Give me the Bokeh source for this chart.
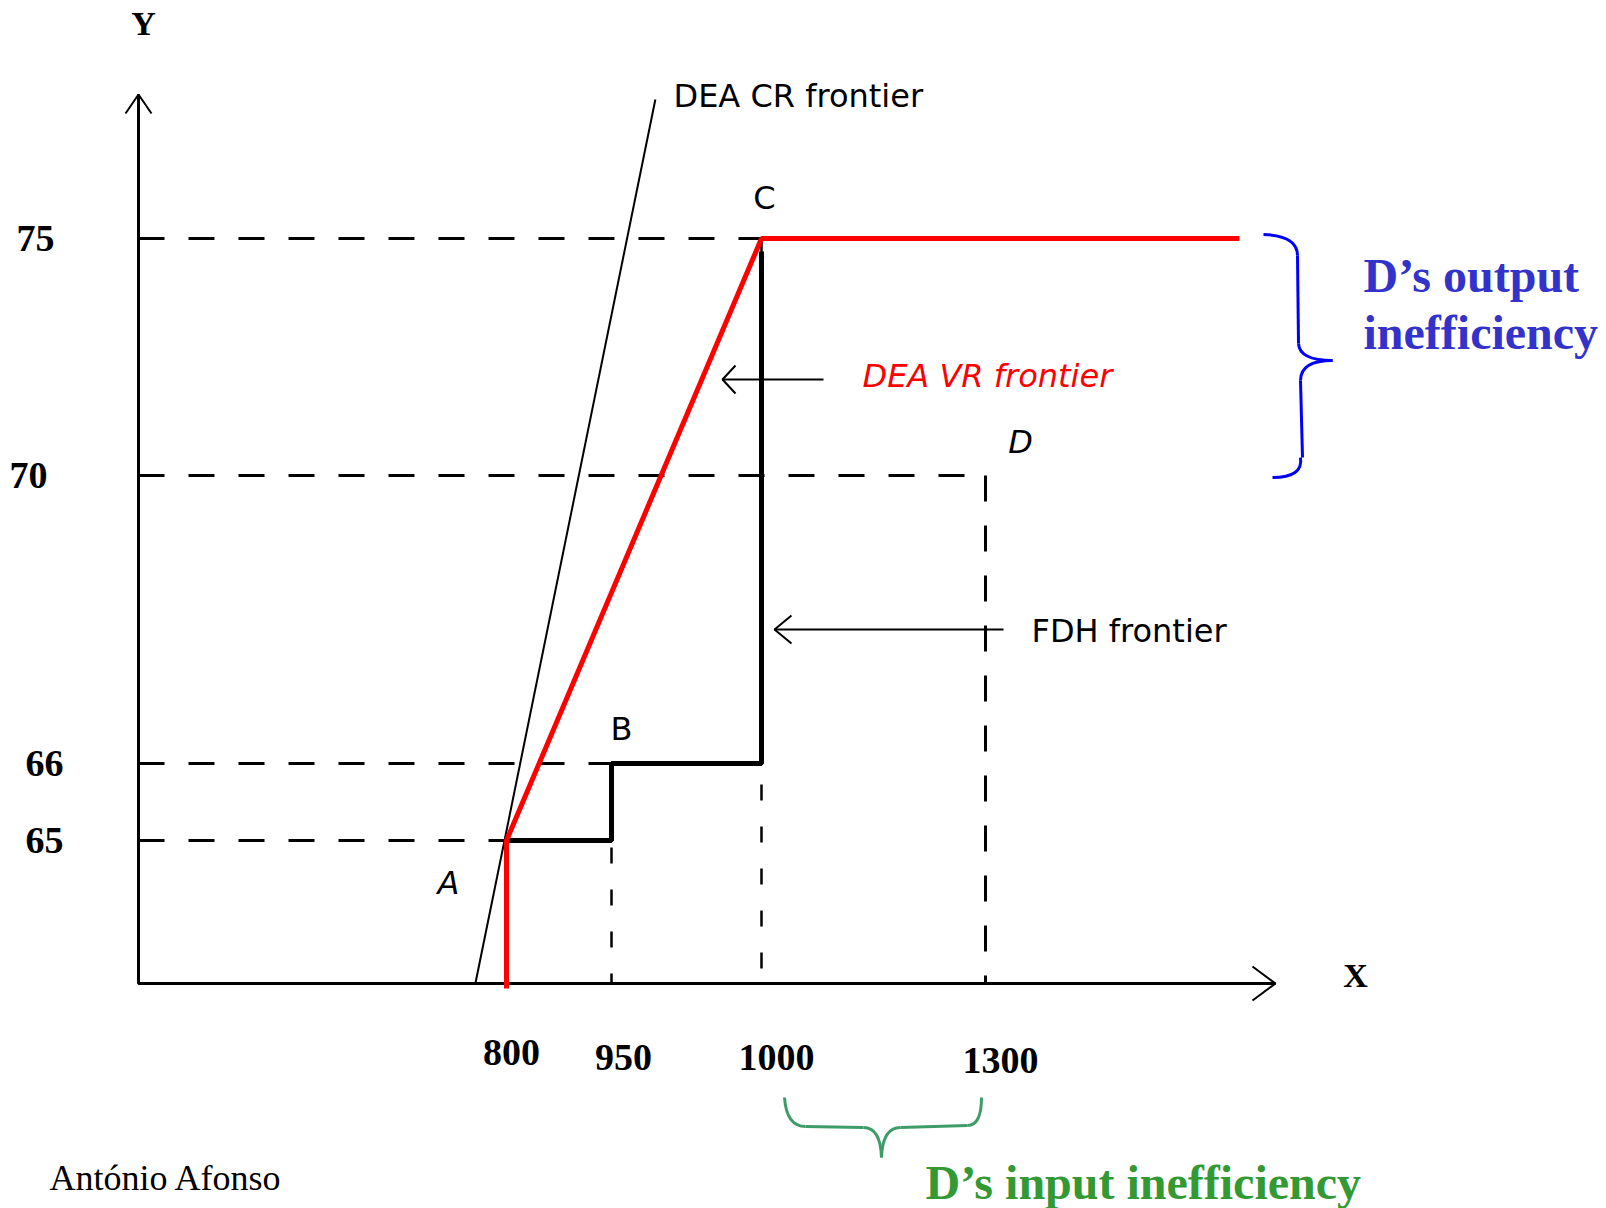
import numpy as np
from bokeh.plotting import figure
from bokeh.models import Range1d
from bokeh.core.properties import value
from bokeh.embed import file_html
from bokeh.resources import INLINE

# ---------------- data ----------------
X_TICKS = [800, 950, 1000, 1300]
Y_TICKS = [65, 66, 70, 75]
X_TICK_LABELS = ["800", "950", "1000", "1300"]
Y_TICK_LABELS = ["65", "66", "70", "75"]
POINT_NAMES = ["A", "B", "C", "D"]
POINT_X = [800, 950, 1000, 1300]
POINT_Y = [65, 66, 75, 70]
FDH_X = [800, 950, 950, 1000, 1000]
FDH_Y = [65, 65, 66, 66, 75]
VRS_X = [800, 1000]
VRS_Y = [65, 75]

# ------------- schematic layout (non-proportional diagram scale) -------------
X_ANCHOR = [506, 611, 761, 985]
Y_ANCHOR = [840, 763, 475, 238]
ORIGIN_X, ORIGIN_Y = 138, 983
Y_AXIS_TOP, X_AXIS_END = 94, 1275
FRONTIER_END = 1239
CR_SLOPE = 0.2036  # dx per dy (px)
CR_TOP = 99


def sx(v):
    return np.interp(v, X_TICKS, X_ANCHOR)


def sy(v):
    return np.interp(v, Y_TICKS, Y_ANCHOR)


W, H = 1606, 1208
p = figure(width=W, height=H, output_backend="svg", toolbar_location=None,
           x_range=Range1d(0, W), y_range=Range1d(H, 0),
           x_axis_type=None, y_axis_type=None, min_border=0)
p.outline_line_color = None
p.background_fill_color = "white"
p.border_fill_color = "white"

PX = sx(POINT_X)
PY = sy(POINT_Y)

# dashed guide lines
for i, name in enumerate(POINT_NAMES):
    p.line([ORIGIN_X, PX[i]], [PY[i], PY[i]], line_color="black", line_width=3,
           line_dash="26 24")
    if name in ("B", "C"):
        p.line([PX[i], PX[i]], [PY[i], ORIGIN_Y], line_color="black", line_width=2.5,
               line_dash="16 26")
    elif name == "D":
        p.line([PX[i], PX[i]], [PY[i], ORIGIN_Y], line_color="black", line_width=3,
               line_dash="26 24")

# DEA CR frontier (thin straight line through A)
ax, ay = PX[0] - 2, PY[0]
p.line([ax - CR_SLOPE * (ORIGIN_Y - ay), ax + CR_SLOPE * (ay - CR_TOP)],
       [ORIGIN_Y, CR_TOP], line_color="black", line_width=2)

# axes
p.line([ORIGIN_X, ORIGIN_X, X_AXIS_END], [Y_AXIS_TOP, ORIGIN_Y, ORIGIN_Y],
       line_color="black", line_width=3)
p.multi_line([[ORIGIN_X - 13, ORIGIN_X, ORIGIN_X + 13],
              [X_AXIS_END - 23, X_AXIS_END, X_AXIS_END - 23]],
             [[Y_AXIS_TOP + 19, Y_AXIS_TOP, Y_AXIS_TOP + 19],
              [ORIGIN_Y - 17, ORIGIN_Y, ORIGIN_Y + 17]],
             line_color="black", line_width=2)

# FDH frontier (the vertical rise stops just short of C, as drawn)
fx = sx(FDH_X)
fy = sy(FDH_Y)
fy[-1] = fy[-1] + 13
p.line(fx, fy, line_color="black", line_width=5)

# DEA VR frontier
vx = sx(VRS_X)
vy = sy(VRS_Y)
p.line([vx[0], vx[0], vx[1], FRONTIER_END], [ORIGIN_Y + 5, vy[0], vy[1], vy[1]],
       line_color="#ff0000", line_width=5)

# pointer arrows
p.multi_line([[722, 823], [735, 722, 735], [774, 1003], [791, 774, 791]],
             [[379, 379], [365, 379, 393], [629, 629], [615, 629, 643]],
             line_color="black", line_width=2)

# blue brace (output inefficiency)
blue = "#0000ff"
p.quadratic(x0=[1263, 1298, 1332, 1300], y0=[234, 343, 360, 457],
            x1=[1297, 1332, 1300, 1272], y1=[255, 360, 380, 477],
            cx=[1297, 1299, 1300, 1303], cy=[235, 360, 360, 477],
            line_color=blue, line_width=3)
p.segment(x0=[1297, 1300], y0=[255, 380], x1=[1298, 1302], y1=[343, 457],
          line_color=blue, line_width=3)

# green brace (input inefficiency)
green_b = "#3d9c68"
p.quadratic(x0=[784, 863, 881, 967], y0=[1097, 1127, 1157, 1125],
            x1=[805, 881, 900, 981], y1=[1126, 1157, 1127, 1097],
            cx=[786, 880, 882, 981], cy=[1126, 1127, 1127, 1125],
            line_color=green_b, line_width=3)
p.segment(x0=[805, 900], y0=[1126, 1127], x1=[863, 967], y1=[1127, 1125],
          line_color=green_b, line_width=3)

# tick labels
serif = value("Liberation Serif")
sans = value("DejaVu Sans")
p.text(x=sx(X_TICKS) + np.array([5, 12, 15, 15]), y=[1052, 1057, 1057, 1060],
       text=X_TICK_LABELS, text_font=serif, text_font_style="bold",
       text_font_size="38px", text_align="center", text_baseline="middle",
       text_color="black")
p.text(x=[44, 44, 28, 35], y=sy(Y_TICKS), text=Y_TICK_LABELS, text_font=serif,
       text_font_style="bold", text_font_size="38px", text_align="center",
       text_baseline="middle", text_color="black")

# axis titles
p.text(x=[143, 1355], y=[23, 975], text=["Y", "X"], text_font=serif,
       text_font_style="bold", text_font_size="34px", text_align="center",
       text_baseline="middle", text_color="black")

# point labels
p.text(x=[PX[2] + 3, PX[1] + 10], y=[PY[2] - 41, PY[1] - 35], text=["C", "B"],
       text_font=sans, text_font_size="32px", text_align="center",
       text_baseline="middle", text_color="black")
p.text(x=[PX[0] - 58, PX[3] + 35], y=[PY[0] + 42, PY[3] - 34], text=["A", "D"],
       text_font=sans, text_font_style="italic", text_font_size="32px",
       text_align="center", text_baseline="middle", text_color="black")

# frontier labels
p.text(x=[673, 1031], y=[95, 630], text=["DEA CR frontier", "FDH frontier"],
       text_font=sans, text_font_size="32px", text_align="left",
       text_baseline="middle", text_color="black")
p.text(x=[862], y=[375], text=["DEA VR frontier"], text_font=sans,
       text_font_style="italic", text_font_size="32px", text_align="left",
       text_baseline="middle", text_color="#ff0000")

# inefficiency annotations
p.text(x=[1363, 1363], y=[275, 332], text=["D\u2019s output", "inefficiency"],
       text_font=serif, text_font_style="bold", text_font_size="48px",
       text_align="left", text_baseline="alphabetic", text_color="#3333cc")
p.text(x=[925], y=[1182], text=["D\u2019s input inefficiency"], text_font=serif,
       text_font_style="bold", text_font_size="48px", text_align="left",
       text_baseline="alphabetic", text_color="#339933")

# author
p.text(x=[49], y=[1177], text=["Ant\u00f3nio Afonso"], text_font=serif,
       text_font_size="36px", text_align="left", text_baseline="alphabetic",
       text_color="black")

open("out.html", "w").write(file_html(p, INLINE))
